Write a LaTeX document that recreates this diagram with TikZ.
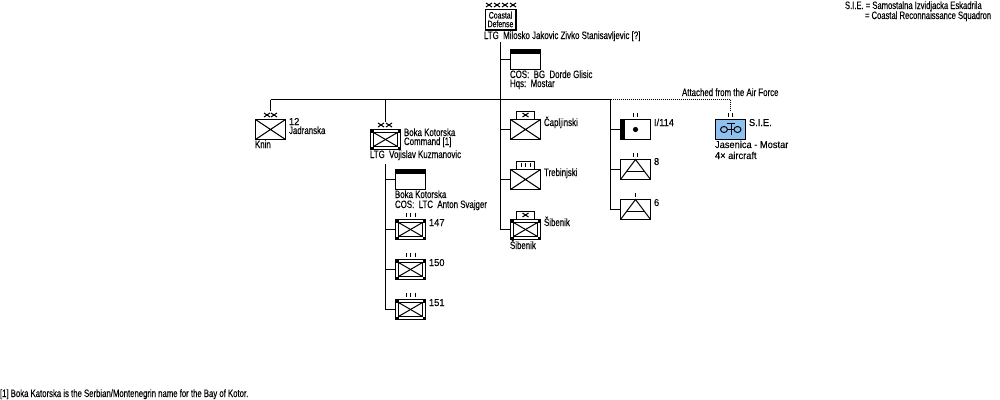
\documentclass[tikz,border=0pt]{standalone}
\usepackage{fontspec}
\setmainfont[FakeStretch=0.93,FakeBold=0.15]{Liberation Sans}
\newfontfamily\narrowfont[FakeStretch=0.74,FakeBold=0.25]{Liberation Sans}
\newfontfamily\tightfont[FakeStretch=0.715,FakeBold=0.25]{Liberation Sans}
\newfontfamily\footfont[FakeStretch=0.727,FakeBold=0.25]{Liberation Sans}
\tikzset{
  x=.75pt, y=-.75pt,
  every path/.style={line width=.75pt},
  unit/.style={draw, line width=.75pt, minimum width=22.5pt, minimum height=15pt, inner sep=0pt, outer sep=0pt},
  mark box/.style={draw, line width=.75pt, minimum width=13.5pt, minimum height=6pt, inner sep=0pt, outer sep=0pt},
  narrowtext/.style={anchor=base west, inner sep=0pt, outer sep=0pt, font=\narrowfont\fontsize{8pt}{8pt}\selectfont},
  tighttext/.style={anchor=base west, inner sep=0pt, outer sep=0pt, font=\tightfont\fontsize{8pt}{8pt}\selectfont},
  foottext/.style={anchor=base west, inner sep=0pt, outer sep=0pt, font=\footfont\fontsize{8pt}{8pt}\selectfont},
  plaintext/.style={anchor=base west, inner sep=0pt, outer sep=0pt, font=\fontsize{7.5pt}{7.5pt}\selectfont},
  link/.style={draw, line width=.75pt},
}
% small cross used for echelon marks
\newcommand{\echx}[2]{\draw (#1-3,#2-2) -- (#1+3,#2+2) (#1-3,#2+2) -- (#1+3,#2-2);}
% vertical tick used for echelon marks
\newcommand{\echtick}[2]{\draw (#1,#2-2) -- (#1,#2+2);}
% saltire between two opposite corners
\newcommand{\saltire}[1]{\draw (#1.north west) -- (#1.south east) (#1.south west) -- (#1.north east);}
% plain infantry box
\newcommand{\infbox}[3]{\node[unit] (#1) at (#2,#3) {}; \saltire{#1}}
% double-framed box with solid corners
\newcommand{\mechbox}[3]{%
  \node[unit] (#1) at (#2,#3) {};
  \fill (#1.north west) rectangle ++(3.5,3.5);
  \fill (#1.north east) rectangle ++(-3,3.5);
  \fill (#1.south west) rectangle ++(3.5,-3);
  \fill (#1.south east) rectangle ++(-3,-3);
  \draw ([xshift=2.25pt,yshift=-2.25pt]#1.north west) rectangle ([xshift=-2.25pt,yshift=2.25pt]#1.south east);
  \draw ([xshift=2.25pt,yshift=-2.25pt]#1.north west) -- ([xshift=-2.25pt,yshift=2.25pt]#1.south east);
  \draw ([xshift=2.25pt,yshift=2.25pt]#1.south west) -- ([xshift=-2.25pt,yshift=-2.25pt]#1.north east);
}
% headquarters box with a solid top band
\newcommand{\hqbox}[3]{%
  \node[unit] (#1) at (#2,#3) {};
  \fill (#1.north west) rectangle ([yshift=-3pt]#1.north east);
}
% artillery box: triangle with a crossbar
\newcommand{\artbox}[3]{%
  \node[unit] (#1) at (#2,#3) {};
  \draw (#1.south west) -- (#1.north) -- (#1.south east);
  \draw (#2-9,#3+2) -- (#2+9,#3+2);
}
\begin{document}
\begin{tikzpicture}
\useasboundingbox (0,0) rectangle (1000,400);

% command box
\node[draw, line width=1pt, minimum width=23pt, minimum height=15.5pt, inner sep=0pt, outer sep=0pt, align=center,
      font=\narrowfont\fontsize{7pt}{6.5pt}\selectfont] (cmd) at (500.5,19.5) {Coastal\\Defense};
\echx{489}{5}\echx{497}{5}\echx{505}{5}\echx{513}{5}
\node[narrowtext] (cmdname) at (484,39) {LTG\ \ Milosko Jakovic Zivko Stanisavljevic [?]};

% staff
\hqbox{hq}{525.5}{59.5}
\node[narrowtext] (hqa) at (510,78) {COS:\ \ BG\ \ Dorde Glisic};
\node[narrowtext] (hqb) at (510,87) {Hqs:\ \ Mostar};

% left wing
\infbox{jad}{270.5}{129.5}
\echx{267}{115}\echx{274}{115}
\node[plaintext] (jadn) at (289,125) {12};
\node[narrowtext] (jadt) at (289,134) {Jadranska};
\node[narrowtext] (knin) at (255,148) {Knin};

\mechbox{boka}{385.5}{139.5}
\echx{381}{125}\echx{389}{125}
\node[narrowtext] (bokaa) at (404,136) {Boka Kotorska};
\node[narrowtext] (bokab) at (404,145) {Command [1]};
\node[narrowtext] (bokac) at (370,158) {LTG\ \ Vojislav Kuzmanovic};

\hqbox{bokahq}{410.5}{179.5}
\node[narrowtext] (bokahqa) at (395,198) {Boka Kotorska};
\node[narrowtext] (bokahqb) at (395,208) {COS:\ \ LTC\ \ Anton Svajger};

\mechbox{ra}{410.5}{229.5}
\mechbox{rb}{410.5}{269.5}
\mechbox{rc}{410.5}{309.5}
\foreach \yy in {215,255,295} {\echtick{406}{\yy}\echtick{410.5}{\yy}\echtick{415}{\yy}}
\node[plaintext] (ran) at (429,226) {147};
\node[plaintext] (rbn) at (429,266) {150};
\node[plaintext] (rcn) at (429,306) {151};

% centre column
\infbox{cap}{525.5}{129.5}
\node[mark box] (capm) at (525.5,115) {};
\echx{525.5}{115}
\node[narrowtext] (capt) at (544,126) {Čapljinski};

\infbox{treb}{525.5}{179.5}
\node[mark box] (trebm) at (525.5,165) {};
\echtick{521}{165}\echtick{525.5}{165}\echtick{530}{165}
\node[narrowtext] (trebt) at (544,176) {Trebinjski};

\mechbox{sib}{525.5}{229.5}
\node[mark box] (sibm) at (525.5,215) {};
\echx{525.5}{215}
\node[narrowtext] (sibt) at (544,226) {Šibenik};
\node[narrowtext] (sibb) at (510,249) {Šibenik};

% right column
\node[unit] (bat) at (635.5,129.5) {};
\fill (bat.north west) rectangle ++(4,20);
\fill (bat.center) circle (2.6);
\echtick{633}{115}\echtick{637}{115}
\node[plaintext] (batn) at (654,126) {I/114};

\artbox{arta}{635.5}{169.5}
\echtick{633}{155}\echtick{637}{155}
\node[plaintext] (artan) at (654,165) {8};

\artbox{artb}{635.5}{209.5}
\echtick{635.5}{195}
\node[plaintext] (artbn) at (654,206) {6};

% attached air unit
\node[unit, fill={rgb,255:red,142;green,192;blue,240}] (air) at (730.5,129.5) {};
\echtick{728}{115}\echtick{732.5}{115}
\draw (727,123) -- (735,123) (731,123) -- (731,135);
\draw (724,129.5) ellipse (3.5 and 3);
\draw (737.5,129.5) ellipse (3.5 and 3);
\draw (727.5,129.5) -- (734,129.5);
\node[plaintext] (airn) at (749,126) {S.I.E.};
\node[plaintext] (aira) at (715,148) {Jasenica - Mostar};
\node[plaintext] (airb) at (715,159) {4× aircraft};
\node[narrowtext] (airnote) at (682,96) {Attached from the Air Force};

% legend and footnote
\node[tighttext] (lega) at (845,9) {S.I.E. = Samostalna Izvidjacka Eskadrila};
\node[tighttext] (legb) at (865,19) {= Coastal Reconnaissance Squadron};
\node[foottext] (foot) at (0,397) {[1] Boka Katorska is the Serbian/Montenegrin name for the Bay of Kotor.};

% connector junctions
\coordinate (trunktop) at (500.5,42);
\coordinate (barl) at (270.5,99.5);
\coordinate (barm) at (385.5,99.5);
\coordinate (barr) at (610.5,99.5);
\coordinate (jadtop) at (270.5,111);
\coordinate (bokatop) at (385.5,122);
\coordinate (airdrop) at (730.5,110);
\coordinate (airbar) at (730.5,99.5);
\coordinate (bokatrunk) at (385.5,164);

% connectors
\draw[link] (barl) -- (barr);
\draw[link] (barl) -- (jadtop);
\draw[link] (barm) -- (bokatop);
\draw[link] (trunktop) |- (sib.west);
\draw[link] (hq.west) -- (hq.west -| trunktop);
\draw[link] (cap.west) -- (cap.west -| trunktop);
\draw[link] (treb.west) -- (treb.west -| trunktop);
\draw[link] (bokatrunk) |- (rc.west);
\draw[link] (bokahq.west) -- (bokahq.west -| bokatrunk);
\draw[link] (ra.west) -- (ra.west -| bokatrunk);
\draw[link] (rb.west) -- (rb.west -| bokatrunk);
\draw[link] (barr) |- (artb.west);
\draw[link] (bat.west) -- (bat.west -| barr);
\draw[link] (arta.west) -- (arta.west -| barr);
\draw[link, dash pattern=on .75pt off .75pt] (barr) -- (airbar) -- (airdrop);
\end{tikzpicture}
\end{document}
